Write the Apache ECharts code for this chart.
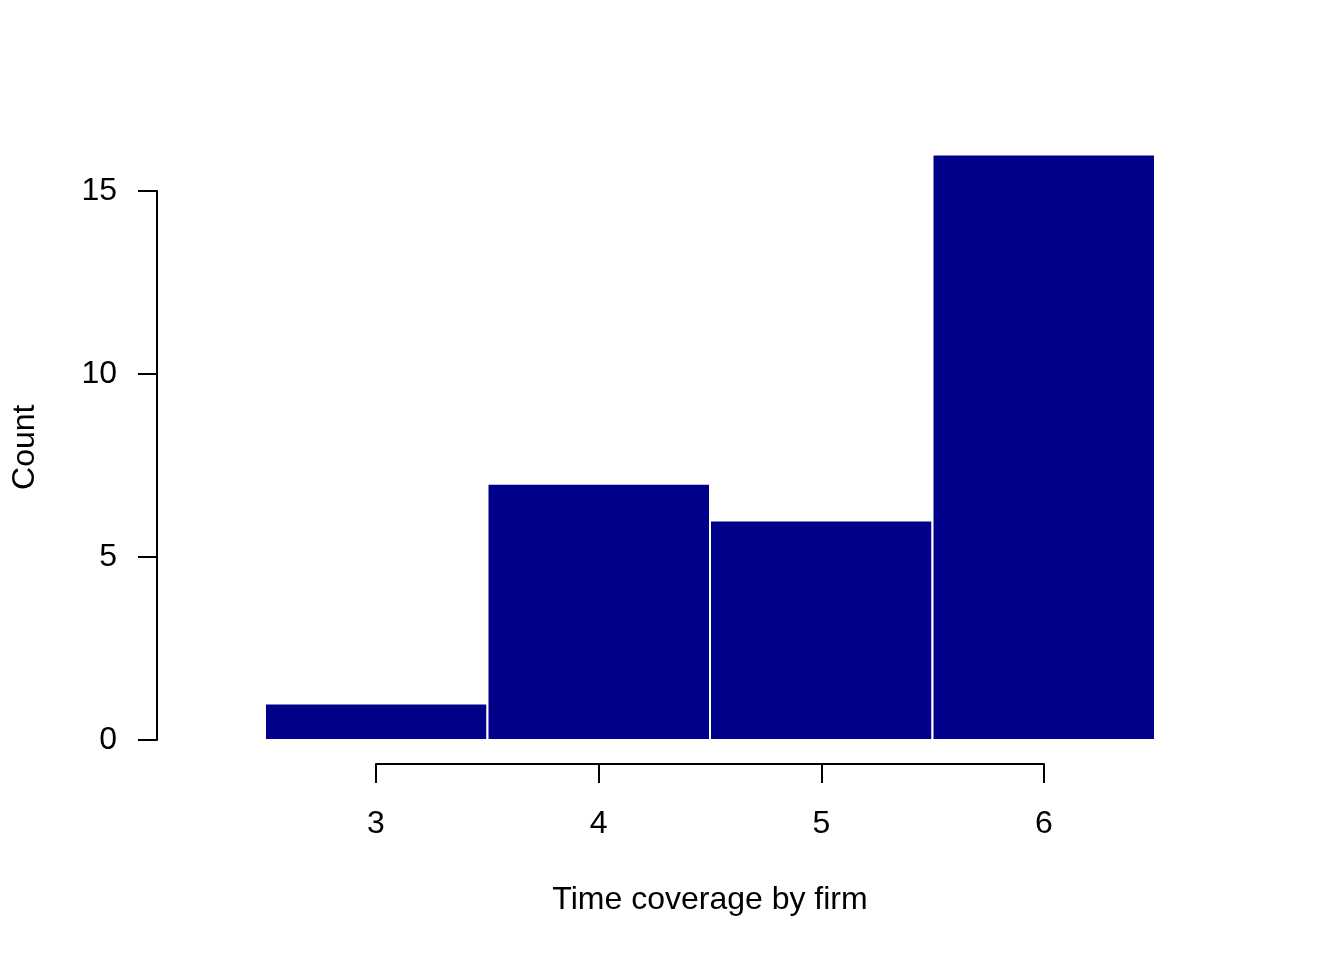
<!DOCTYPE html>
<html>
<head>
<meta charset="utf-8">
<script src="https://cdn.jsdelivr.net/npm/echarts@6/dist/echarts.min.js"></script>
<style>
  html, body { margin: 0; padding: 0; background: #fff; }
  #chart { width: 1344px; height: 960px; }
</style>
</head>
<body>
<div id="chart"></div>
<script>
// histogram bins
const breaks = [2.5, 3.5, 4.5, 5.5, 6.5]
const counts = [1, 7, 6, 16]
const xTicks = [3, 4, 5, 6]
const yTicks = [0, 5, 10, 15]

const bins = counts.map((c, i) => [breaks[i], breaks[i + 1], c])

const font = 'Liberation Sans, Arial, Helvetica, sans-serif'
const axisColor = '#000'
const tickStyle = { color: axisColor, width: 2 }
const labelStyle = { color: '#000', fontSize: 32, fontFamily: font }

const chart = echarts.init(document.getElementById('chart'))

const option = {
  animation: false,
  backgroundColor: '#fff',
  textStyle: { fontFamily: font },
  grid: [
    // bars
    { left: 265, right: 189, top: 154.4, bottom: 220, outerBoundsMode: 'none' },
    // x axis, only across the tick range, below the plot
    { left: 376, right: 300, top: 191, bottom: 196, outerBoundsMode: 'none' },
    // y axis, only across the tick range, left of the plot
    { left: 157, right: 300, top: 191, bottom: 220, outerBoundsMode: 'none' }
  ],
  xAxis: [
    {
      gridIndex: 0,
      type: 'value',
      min: breaks[0],
      max: breaks[breaks.length - 1],
      show: false
    },
    {
      gridIndex: 1,
      type: 'value',
      min: xTicks[0],
      max: xTicks[xTicks.length - 1],
      interval: 1,
      axisLine: { show: true, lineStyle: tickStyle },
      axisTick: { show: true, length: 19, lineStyle: tickStyle },
      axisLabel: Object.assign({ margin: 44 }, labelStyle),
      splitLine: { show: false },
      name: 'Time coverage by firm',
      nameLocation: 'middle',
      nameGap: 120,
      nameTextStyle: labelStyle
    },
    {
      gridIndex: 2,
      type: 'value',
      show: false
    }
  ],
  yAxis: [
    {
      gridIndex: 0,
      type: 'value',
      min: 0,
      max: 16,
      axisLine: { show: false },
      axisTick: { show: false },
      axisLabel: { show: false },
      splitLine: { show: false },
      name: 'Count',
      nameLocation: 'middle',
      nameGap: 224,
      nameTextStyle: labelStyle
    },
    {
      gridIndex: 1,
      type: 'value',
      show: false
    },
    {
      gridIndex: 2,
      type: 'value',
      min: yTicks[0],
      max: yTicks[yTicks.length - 1],
      interval: 5,
      axisLine: { show: true, lineStyle: tickStyle },
      axisTick: { show: true, length: 19, lineStyle: tickStyle },
      axisLabel: Object.assign({ margin: 40 }, labelStyle),
      splitLine: { show: false }
    }
  ],
  series: [
    {
      type: 'custom',
      xAxisIndex: 0,
      yAxisIndex: 0,
      data: bins,
      renderItem: (params, api) => {
        const p0 = api.coord([api.value(0), api.value(2)])
        const p1 = api.coord([api.value(1), 0])
        return {
          type: 'rect',
          shape: { x: p0[0], y: p0[1], width: p1[0] - p0[0], height: p1[1] - p0[1] },
          style: { fill: '#00008B', stroke: '#fff', lineWidth: 2 }
        }
      }
    }
  ]
}

chart.setOption(option)
</script>
</body>
</html>
